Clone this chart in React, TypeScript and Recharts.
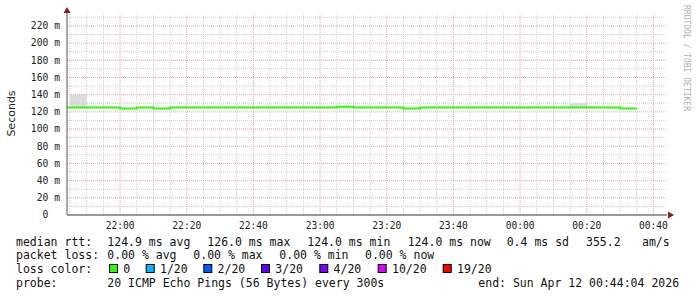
import { ComposedChart, Line, XAxis, YAxis, ReferenceArea, ReferenceLine } from 'recharts';

const START = '21:44:04';
const END = '00:44:04';

// median rtt, step changes (value holds until the next time)
const rttTimes = ['21:44:04', '22:00', '22:05', '22:10', '22:15', '23:05', '23:10', '23:25', '23:30', '00:30', '00:35'];
const rttMedian = [125.0, 124.0, 125.0, 124.0, 125.0, 126.0, 125.0, 124.0, 125.0, 124.0, 124.0];

// grey smoke (spread of the pings)
const smokeFrom = ['21:45', '00:15'];
const smokeTo = ['21:50', '00:20'];
const smokeLow = [125, 125];
const smokeHigh = [140, 130];

const yTicks = [0, 20, 40, 60, 80, 100, 120, 140, 160, 180, 200, 220];
const yTickLabels = ['0  ', '20 m', '40 m', '60 m', '80 m', '100 m', '120 m', '140 m', '160 m', '180 m', '200 m', '220 m'];
const yMinor = [10, 30, 50, 70, 90, 110, 130, 150, 170, 190, 210, 230];

const xTicks = ['22:00', '22:20', '22:40', '23:00', '23:20', '23:40', '00:00', '00:20', '00:40'];

const lossLabels = ['0', '1/20', '2/20', '3/20', '4/20', '10/20', '19/20'];
const lossColors = ['#26ff00', '#00b8ff', '#0059ff', '#5e00ff', '#7e00ff', '#dd00ff', '#ff0000'];

const toMin = (s: string) => {
  const [h, m, sec] = s.split(':').map(Number);
  return (h < 12 ? h + 24 : h) * 60 + m + (sec || 0) / 60;
};

const fmt = (v: number) => {
  const h = Math.floor(v / 60) % 24;
  const m = Math.round(v % 60);
  return `${String(h).padStart(2, '0')}:${String(m).padStart(2, '0')}`;
};

const data = rttTimes.map((t, i) => ({ t: toMin(t), rtt: rttMedian[i] }));

const xMajor = xTicks.map(toMin);
const xMinor: number[] = [];
for (let v = toMin('21:45'); v <= toMin(END); v += 5) {
  if (v % 20 !== 0) xMinor.push(v);
}

const mono = '"DejaVu Sans Mono", monospace';
const minorGrid = '#cfcfcf';
const majorGrid = '#f0a4a4';

const YTick = ({ x, y, payload }: any) => (
  <text x={x - 7} y={y} dy="0.35em" textAnchor="end" fontFamily={mono} fontSize={9.7}
    fill="#222" style={{ whiteSpace: 'pre' }}>
    {yTickLabels[yTicks.indexOf(payload.value)]}
  </text>
);

const XTick = ({ x, y, payload }: any) => (
  <text x={x} y={y + 13.5} textAnchor="middle" fontFamily={mono} fontSize={9.6} fill="#222">
    {fmt(payload.value)}
  </text>
);

const line1: [number, string][] = [
  [16, 'median rtt:'], [107.3, '124.9 ms avg'], [207.3, '126.0 ms max'], [307.3, '124.0 ms min'],
  [407.7, '124.0 ms now'], [506.7, '0.4 ms sd'], [586, '355.2'], [642, 'am/s'],
];
const line2: [number, string][] = [
  [16, 'packet loss:'], [107.3, '0.00 % avg'], [193.3, '0.00 % max'], [279.3, '0.00 % min'], [365, '0.00 % now'],
];
const boxX = [109, 145.7, 203.3, 261, 319.3, 377.7, 442.7];

export default function App() {
  return (
    <div style={{ position: 'absolute', left: 0, top: 0, width: 697, height: 297, background: '#fff' }}>
      <ComposedChart width={697} height={297} data={data} margin={{ top: 13, right: 30, left: 0, bottom: 62 }}>
        <XAxis type="number" dataKey="t" domain={[toMin(START), toMin(END)]} ticks={xMajor} allowDataOverflow interval={0}
          height={20} tickSize={0} tickMargin={0} tick={<XTick />} axisLine={{ stroke: '#333' }} tickLine={false} />
        <YAxis type="number" domain={[0, 235]} ticks={yTicks} width={67} tickSize={0} tickMargin={0} interval={0}
          tick={<YTick />} axisLine={{ stroke: '#555' }} tickLine={false} allowDataOverflow />
        {smokeFrom.map((f, i) => (
          <ReferenceArea key={f} x1={toMin(f)} x2={toMin(smokeTo[i])} y1={smokeLow[i]} y2={smokeHigh[i]}
            fill="#dcdcdc" fillOpacity={1} stroke="none" />
        ))}
        {yMinor.map((v) => <ReferenceLine key={'ym' + v} y={v} stroke={minorGrid} strokeDasharray="1 1" />)}
        {xMinor.map((v) => <ReferenceLine key={'xm' + v} x={v} stroke={minorGrid} strokeDasharray="1 1" />)}
        {yTicks.slice(1).map((v) => <ReferenceLine key={'yM' + v} y={v} stroke={majorGrid} strokeDasharray="1 1" />)}
        {xMajor.map((v) => <ReferenceLine key={'xM' + v} x={v} stroke={majorGrid} strokeDasharray="1 1" />)}
        <Line type="stepAfter" dataKey="rtt" stroke="#26ff00" strokeWidth={2} dot={false} isAnimationActive={false} />
      </ComposedChart>
      <svg width={697} height={297} style={{ position: 'absolute', left: 0, top: 0, pointerEvents: 'none' }}>
        <polygon points="67,7 63.5,13 70.5,13" fill="#8b1a1a" />
        <polygon points="674,215 668,211.5 668,218.5" fill="#8b1a1a" />
        <text transform="translate(15,113.5) rotate(-90)" textAnchor="middle" fontFamily='"DejaVu Sans", sans-serif'
          fontSize={11} fill="#222">Seconds</text>
        <text transform="translate(684,5) rotate(90)" fontFamily={mono} fontSize={8} fill="#b0b0b0">
          RRDTOOL / TOBI OETIKER
        </text>
        <g fontFamily={mono} fontSize={11.5} fill="#111" style={{ whiteSpace: 'pre' }}>
          {line1.map(([x, s]) => <text key={s} x={x} y={245.5}>{s}</text>)}
          {line2.map(([x, s], i) => <text key={i} x={x} y={259}>{s}</text>)}
          <text x={16} y={273}>loss color:</text>
          {lossLabels.map((l, i) => (
            <g key={l}>
              <rect x={boxX[i] + 0.5} y={264.5} width={8} height={8} fill={lossColors[i]} stroke="#000" />
              <text x={boxX[i] + 14.3} y={273}>{l}</text>
            </g>
          ))}
          <text x={16} y={287}>probe:</text>
          <text x={107.3} y={287}>20 ICMP Echo Pings (56 Bytes) every 300s</text>
          <text x={478.3} y={287}>end: Sun Apr 12 00:44:04 2026</text>
        </g>
      </svg>
    </div>
  );
}
